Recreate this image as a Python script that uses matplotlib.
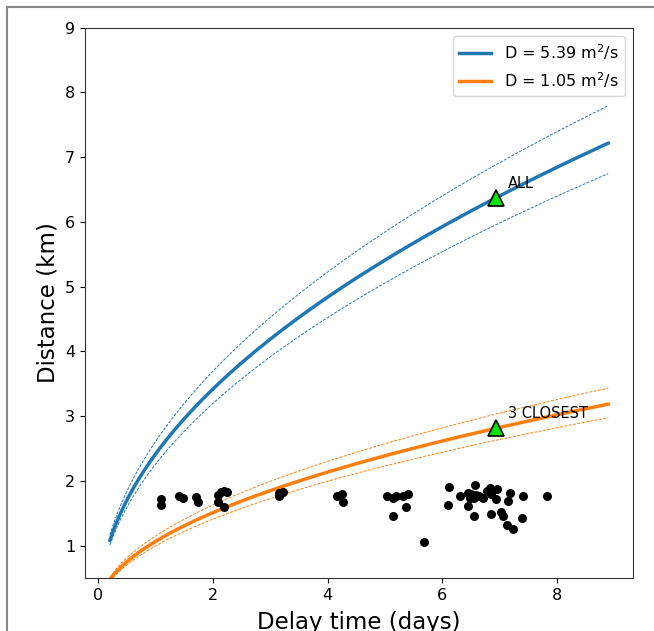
import numpy as np
import matplotlib.pyplot as plt
from matplotlib.lines import Line2D

# diffusivities (m^2/s): best fit and bounds
D_all = 5.39
D_all_bounds = [4.71, 6.29]
D_close = 1.05
D_close_bounds = [0.916, 1.22]

t_start, t_end = 0.2, 8.9

# event delay times (days) and distances (km)
delay = [1.10, 1.10, 1.40, 1.47, 1.70, 1.74, 2.09, 2.14, 2.20, 2.25, 2.08, 2.19,
         3.15, 3.22, 3.15, 4.16, 4.26, 4.27, 5.04, 5.14, 5.20, 5.15, 5.32, 5.40,
         5.37, 5.69, 6.12, 6.10, 6.31, 6.46, 6.51, 6.56, 6.60, 6.65, 6.71, 6.48,
         6.57, 6.46, 6.56, 6.78, 6.83, 6.86, 6.96, 6.95, 6.85, 7.03, 7.07, 7.14,
         7.24, 7.18, 7.15, 7.41, 7.40, 7.83]
dist = [1.72, 1.63, 1.76, 1.74, 1.75, 1.68, 1.78, 1.83, 1.85, 1.83, 1.67, 1.59,
        1.82, 1.83, 1.77, 1.76, 1.80, 1.67, 1.76, 1.73, 1.77, 1.46, 1.77, 1.80,
        1.60, 1.05, 1.90, 1.63, 1.77, 1.82, 1.80, 1.74, 1.78, 1.76, 1.74, 1.73,
        1.94, 1.61, 1.46, 1.85, 1.89, 1.80, 1.87, 1.72, 1.49, 1.52, 1.46, 1.32,
        1.26, 1.82, 1.69, 1.77, 1.43, 1.76]

# marked points on the fits
mark_t = 6.95
labels = ["ALL", "3 CLOSEST"]


def radius(D, t):
    # r = sqrt(4 pi D t), t in days -> km
    return np.sqrt(4 * np.pi * D * t * 86400) / 1000


t = np.linspace(t_start, t_end, 300)

fig = plt.figure(figsize=(6.54, 6.31), dpi=100)
ax = fig.add_axes([0.130, 0.084, 0.838, 0.872])

ax.plot(t, radius(D_all, t), color='tab:blue', lw=2.5, label='D = %.2f m$^2$/s' % D_all)
for d in D_all_bounds:
    ax.plot(t, radius(d, t), '--', color='tab:blue', lw=0.7, dashes=(3, 1.5))
ax.plot(t, radius(D_close, t), color='tab:orange', lw=2.5, label='D = %.2f m$^2$/s' % D_close)
for d in D_close_bounds:
    ax.plot(t, radius(d, t), '--', color='tab:orange', lw=0.7, dashes=(3, 1.5))

ax.scatter(delay, dist, s=30, color='black', zorder=3)

for D, lab in zip([D_all, D_close], labels):
    r = radius(D, mark_t)
    ax.plot(mark_t, r, '^', ms=11, color='#00e600', mec='black', mew=1.2, zorder=4)
    ax.text(mark_t + 0.2, r + 0.15, lab, fontsize=10.5)

ax.set_ylim(0.5, 9)
ax.set_xticks([0, 2, 4, 6, 8])
ax.tick_params(labelsize=11.5)
ax.set_xlabel('Delay time (days)', fontsize=16.5, labelpad=6)
ax.set_ylabel('Distance (km)', fontsize=16.5)
ax.legend(loc='upper right', fontsize=11.5)
for s in ax.spines.values():
    s.set_color('#333333')

# outer frame of the original figure
fx, fy = 7 / 654, 1 - 7 / 631
fig.add_artist(Line2D([fx, 1], [fy, fy], transform=fig.transFigure, color='#888888', lw=1.5))
fig.add_artist(Line2D([fx, fx], [0, fy], transform=fig.transFigure, color='#888888', lw=1.5))

fig.savefig('out.png', dpi=100)
